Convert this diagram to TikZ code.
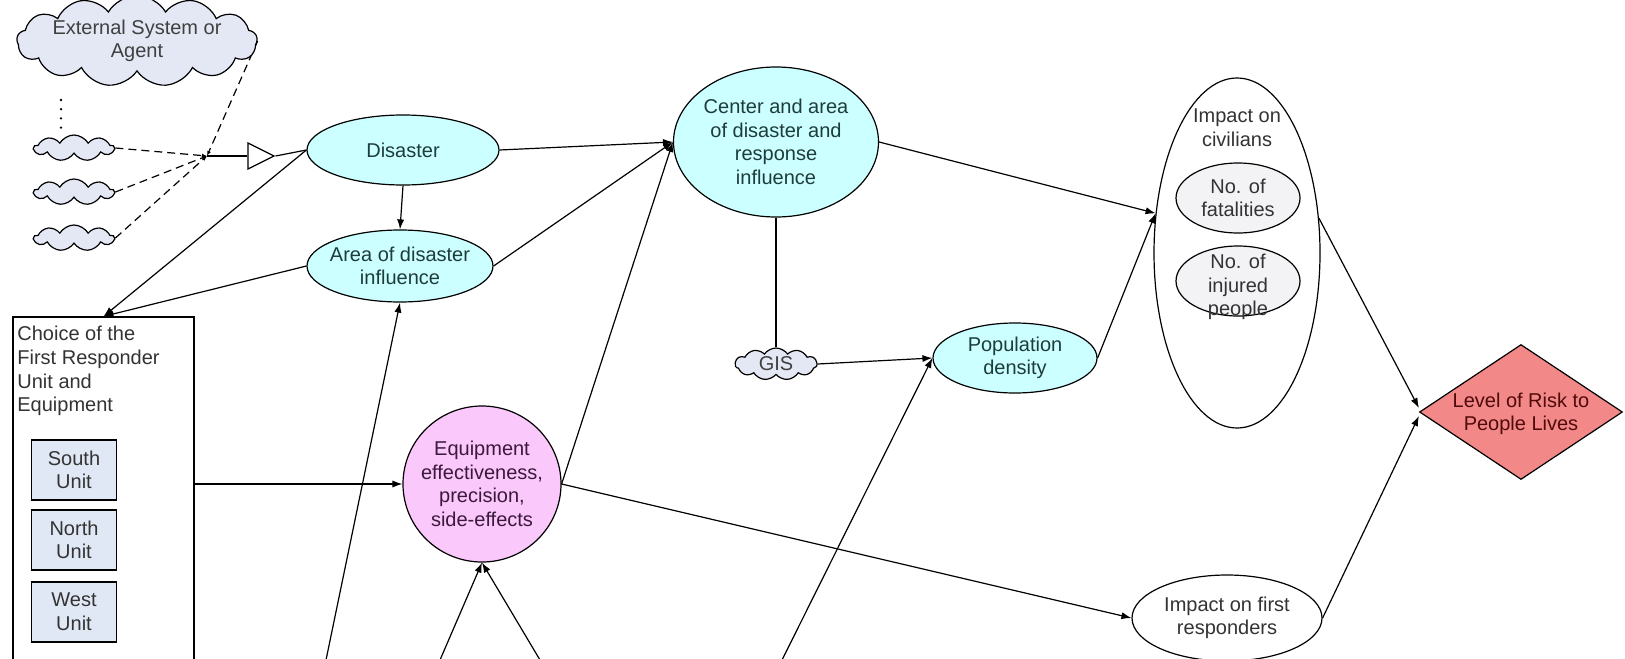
\documentclass[tikz,border=0pt]{standalone}
\usepackage{fontspec}
\setmainfont{Liberation Sans}
\usetikzlibrary{shapes.geometric,shapes.symbols,arrows.meta,backgrounds}

\definecolor{cyanfill}{RGB}{204,255,255}
\definecolor{cyantext}{RGB}{30,60,60}
\definecolor{pinkfill}{RGB}{250,200,250}
\definecolor{pinktext}{RGB}{60,25,60}
\definecolor{riskfill}{RGB}{243,136,136}
\definecolor{risktext}{RGB}{80,10,10}
\definecolor{cloudfill}{RGB}{228,232,245}
\definecolor{unitfill}{RGB}{225,232,245}
\definecolor{innerfill}{RGB}{243,243,246}

\begin{document}
\begin{tikzpicture}[x=0.5pt,y=-0.5pt,
  font=\fontsize{10}{11.8}\selectfont,
  conn/.style={draw=black, line width=0.6pt},
  arr/.style={conn, -{Latex[length=5pt,width=3.6pt]}},
  dashconn/.style={conn, dash pattern=on 4pt off 2.5pt, -{Latex[length=2.5pt,width=2pt]}},
  cyanell/.style={ellipse, draw, line width=0.6pt, fill=cyanfill, inner sep=0pt, align=center, text=cyantext},
  plainell/.style={ellipse, draw, line width=0.6pt, fill=white, inner sep=0pt, align=center, text=black!80},
  innerell/.style={ellipse, draw, line width=0.6pt, fill=innerfill, inner sep=0pt, align=center, text=black!80},
  cloudnode/.style={cloud, cloud puffs=11, cloud puff arc=120, cloud ignores aspect, draw, line width=0.6pt, fill=cloudfill, inner sep=0pt, align=center, text=black!75},
  unitbox/.style={rectangle, draw, line width=0.6pt, fill=unitfill, minimum width=42.5pt, minimum height=30pt, inner sep=0pt, align=center, text=black!80}
]
\useasboundingbox (0,0) rectangle (1625,658);
\clip (0,0) rectangle (1625,658);

% external agents feeding the disaster
\node[cloudnode, cloud puffs=13, minimum width=101pt, minimum height=30pt] (ext) at (137,41) {External System or\\Agent};
\node[cloudnode, cloud puffs=9, minimum width=40pt, minimum height=13pt] (c1) at (74,148) {};
\node[cloudnode, cloud puffs=9, minimum width=40pt, minimum height=13pt] (c2) at (74,192) {};
\node[cloudnode, cloud puffs=9, minimum width=40pt, minimum height=13pt] (c3) at (74,238) {};
\draw[line width=1.3pt, line cap=round, dash pattern=on 0pt off 4.6pt] (61,100) -- (61,129);

\coordinate (jn) at (207,156);

\node[isosceles triangle, isosceles triangle stretches, draw, line width=0.6pt, fill=white,
      minimum width=13pt, minimum height=13pt, inner sep=0pt] (tri) at (256,156) {};

% main nodes
\node[cyanell, minimum width=96pt, minimum height=35pt] (dis) at (403,150) {Disaster};
\node[cyanell, inner xsep=-4pt, minimum width=93pt, minimum height=36pt] (area) at (400,266) {Area of disaster\\influence};
\node[cyanell, minimum width=102.5pt, minimum height=75pt] (cen) at (776,142) {Center and area\\of disaster and\\response\\influence};
\node[cloudnode, cloud puffs=11, cloud puff arc=110, minimum width=41pt, minimum height=16pt] (gis) at (776,364) {};
\node[text=black!75] (gist) at (776,364) {GIS};
\node[cyanell, minimum width=82pt, minimum height=35pt] (pop) at (1015,358) {Population\\density};
\node[ellipse, draw, line width=0.6pt, fill=pinkfill, inner sep=0pt, inner xsep=-4pt, align=center, text=pinktext,
      minimum width=79pt, minimum height=78pt] (eq) at (482,484) {Equipment\\effectiveness,\\precision,\\side-effects};

\node[plainell, minimum width=83pt, minimum height=175pt] (civ) at (1237,253) {};
\node[align=center, text=black!80] (civt) at (1237,128) {Impact on\\civilians};
\node[innerell, minimum width=62pt, minimum height=35pt] (fat) at (1238,198) {No. of\\fatalities};
\node[innerell, minimum width=62pt, minimum height=35pt] (inj) at (1238,281) {};
\node[align=center, text=black!80] (injt) at (1238,287) {No. of\\injured\\people};

\node[plainell, minimum width=95pt, minimum height=43pt] (ifr) at (1227,618) {Impact on first\\responders};
\node[diamond, draw, line width=0.6pt, fill=riskfill, inner sep=0pt,
      minimum width=101.5pt, minimum height=67.5pt] (dia) at (1521,412) {};
\node[align=center, text=risktext] (diat) at (1521,414) {Level of Risk to\\People Lives};

% responder choice panel
\node[rectangle, draw, line width=0.6pt, fill=white, minimum width=90.5pt, minimum height=195pt,
      inner sep=0pt] (box) at (103.5,512) {};
\node[anchor=north west, align=left, text=black!80, inner sep=0pt] (boxt) at (17,326)
  {Choice of the\\First Responder\\Unit and\\Equipment};
\node[unitbox] (south) at (74,470) {South\\Unit};
\node[unitbox] (north) at (74,540) {North\\Unit};
\node[unitbox] (west) at (74,612) {West\\Unit};

% off-page sources along the lower edge
\coordinate (b1) at (326,660);
\coordinate (b2) at (440,660);
\coordinate (b3) at (540,660);
\coordinate (b4) at (782,660);

% connectors, kept beneath the filled shapes
\begin{scope}[on background layer]
\draw[dashconn] (ext.east) -- (jn);
\draw[dashconn] (c1.east) -- (jn);
\draw[dashconn] (c2.east) -- (jn);
\draw[dashconn] (c3.east) -- (jn);
\draw[conn] (jn) -- (tri.west);
\draw[conn] (tri.apex) -- (dis.west);
\draw[arr] (dis.south) -- (area.north);
\draw[arr] (dis.west) -- (box.north);
\draw[arr] (area.west) -- (box.north);
\draw[arr] (dis.east) -- (cen.west);
\draw[arr] (area.east) -- (cen.west);
\draw[arr] (eq.east) -- (cen.west);
\draw[arr] (box.east |- eq.west) -- (eq.west);
\draw[arr] (eq.east) -- (ifr.west);
\draw[conn] (cen.south) -- (gis.north);
\draw[arr] (gis.east) -- (pop.west);
\draw[arr] (cen.east) -- (civ.154);
\draw[arr] (pop.east) -- (civ.154);
\draw[arr] (civ.23) -- ([yshift=2pt]dia.west);
\draw[arr] (ifr.east) -- ([yshift=-2pt]dia.west);
\draw[arr] (b1) -- (area.south);
\draw[arr] (b2) -- (eq.south);
\draw[arr] (b3) -- (eq.south);
\draw[arr] (b4) -- (pop.west);
\end{scope}
\end{tikzpicture}
\end{document}
